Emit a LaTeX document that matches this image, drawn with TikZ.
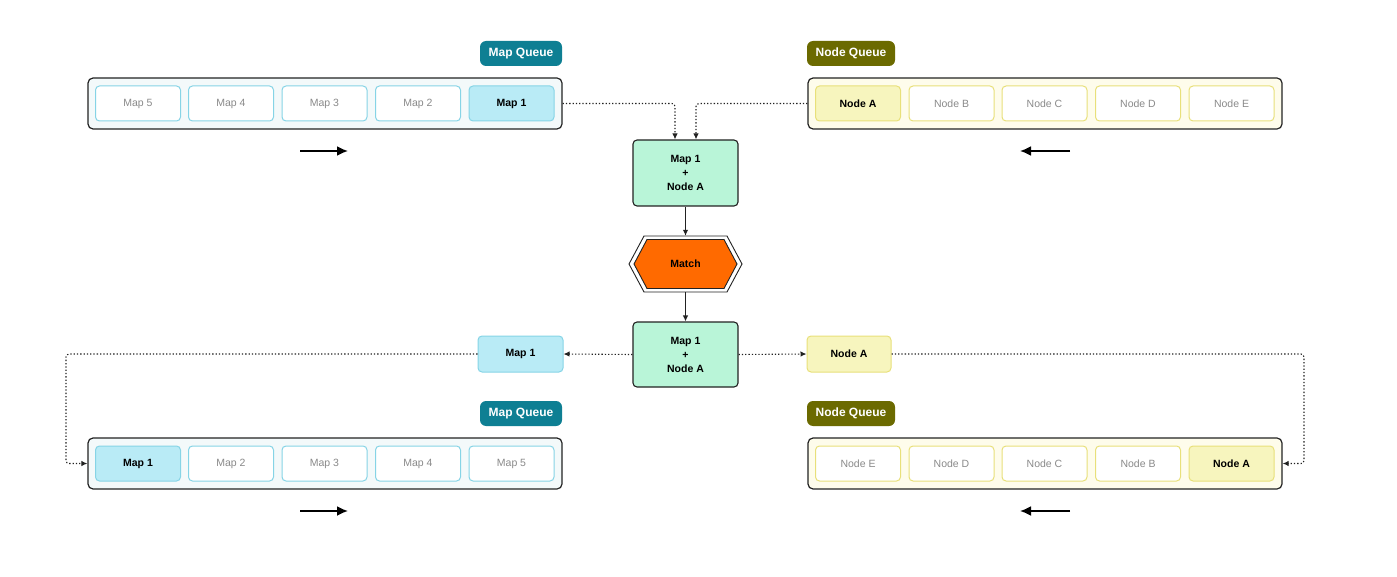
\documentclass[tikz,border=0pt]{standalone}
\usepackage{fontspec}
\setmainfont{Liberation Sans}
\usetikzlibrary{arrows.meta}
\definecolor{mqteal}{HTML}{0E7F93}
\definecolor{nqolive}{HTML}{6B6A00}
\definecolor{mapbd}{HTML}{86D4E6}
\definecolor{mapfill}{HTML}{B9EBF6}
\definecolor{mapbg}{HTML}{F3F9FA}
\definecolor{nodebd}{HTML}{E8E07A}
\definecolor{nodefill}{HTML}{F7F5BE}
\definecolor{nodebg}{HTML}{FEFCEB}
\definecolor{greenbox}{HTML}{B9F5D8}
\definecolor{matchor}{HTML}{FF6A00}
\definecolor{celltxt}{HTML}{8A8A8A}
\definecolor{lineblk}{HTML}{222222}
\tikzset{
  container/.style={draw=lineblk, line width=1.2pt, rounded corners=5pt, minimum width=474pt, minimum height=51pt, inner sep=0pt},
  cellbase/.style={rounded corners=4pt, minimum width=85pt, minimum height=35pt, inner sep=0pt, line width=1pt, font=\fontsize{10.5}{12}\selectfont},
  mapcell/.style={cellbase, draw=mapbd, fill=white, text=celltxt},
  mapon/.style={cellbase, draw=mapbd, fill=mapfill, text=black, font=\fontsize{10.5}{12}\selectfont\bfseries},
  nodecell/.style={cellbase, draw=nodebd, fill=white, text=celltxt},
  nodeon/.style={cellbase, draw=nodebd, fill=nodefill, text=black, font=\fontsize{10.5}{12}\selectfont\bfseries},
  qlabel/.style={rounded corners=6pt, minimum height=25pt, inner sep=0pt, text=white, font=\fontsize{12}{14}\selectfont\bfseries},
  greenbox/.style={draw=lineblk, line width=1.1pt, fill=greenbox, rounded corners=4pt, minimum width=105pt, minimum height=66pt, inner sep=0pt, align=center, font=\fontsize{10.5}{14}\selectfont\bfseries},
  dotarrow/.style={dash pattern=on 1.3pt off 2pt, line width=1.1pt, draw=lineblk, rounded corners=3pt, -{Latex[length=6pt,width=5.5pt]}},
  solidarrow/.style={line width=1.1pt, draw=lineblk, -{Latex[length=6pt,width=5.5pt]}},
  dirarrow/.style={line width=1.8pt, draw=black, -{Latex[length=11pt,width=10pt]}}
}
\begin{document}
\begin{tikzpicture}[x=1pt,y=-1pt]
\useasboundingbox (0,0) rectangle (1397,577);

% ---------- top map queue ----------
\node[qlabel, fill=mqteal, minimum width=82pt] (mqlabel) at (521,53.5) {Map Queue};
\node[container, fill=mapbg] (mq) at (325,103.5) {};
\node[mapcell] (m5) at (138,103.5) {Map 5};
\node[mapcell] (m4) at (231,103.5) {Map 4};
\node[mapcell] (m3) at (324.5,103.5) {Map 3};
\node[mapcell] (m2) at (418,103.5) {Map 2};
\node[mapon] (m1) at (511.5,103.5) {Map 1};
\coordinate (ta1) at (300,151);
\coordinate (ta2) at (348,151);
\draw[dirarrow] (ta1) -- (ta2);

% ---------- top node queue ----------
\node[qlabel, fill=nqolive, minimum width=88pt] (nqlabel) at (851,53.5) {Node Queue};
\node[container, fill=nodebg] (nq) at (1045,103.5) {};
\node[nodeon] (na) at (858,103.5) {Node A};
\node[nodecell] (nb) at (951.5,103.5) {Node B};
\node[nodecell] (nc) at (1044.5,103.5) {Node C};
\node[nodecell] (nd) at (1138,103.5) {Node D};
\node[nodecell] (ne) at (1231.5,103.5) {Node E};
\coordinate (tb1) at (1070,151);
\coordinate (tb2) at (1020,151);
\draw[dirarrow] (tb1) -- (tb2);

% ---------- centre ----------
\node[greenbox] (c1) at (685.5,173) {Map 1\\+\\Node A};
\node[minimum width=113pt, minimum height=56pt, inner sep=0pt] (match) at (685.5,264) {};
\draw[lineblk, line width=0.9pt, fill=white] (629,264) -- (644,236) -- (727,236) -- (742,264) -- (727,292) -- (644,292) -- cycle;
\draw[lineblk, line width=0.9pt, fill=matchor] (634,264) -- (647,239.5) -- (724,239.5) -- (737,264) -- (724,288.5) -- (647,288.5) -- cycle;
\node[font=\fontsize{10.5}{12}\selectfont\bfseries] at (match.center) {Match};
\node[greenbox, minimum height=65pt] (c2) at (685.5,354.5) {Map 1\\+\\Node A};

\node[mapon, minimum height=36pt] (sm) at (520.5,354) {Map 1};
\node[nodeon, minimum width=84pt, minimum height=36pt] (sn) at (849,354) {Node A};

% connectors top
\draw[dotarrow] (mq.east) -| ([xshift=-10.5pt]c1.north);
\draw[dotarrow] (nq.west) -| ([xshift=10.5pt]c1.north);
\draw[solidarrow] (c1.south) -- (match.north);
\draw[solidarrow] (match.south) -- (c2.north);
\draw[dotarrow] (c2.west) -- (sm.east);
\draw[dotarrow] (c2.east) -- (sn.west);

% ---------- bottom map queue ----------
\node[qlabel, fill=mqteal, minimum width=82pt] (mqlabel2) at (521,413.5) {Map Queue};
\node[container, fill=mapbg] (bmq) at (325,463.5) {};
\node[mapon] (bm1) at (138,463.5) {Map 1};
\node[mapcell] (bm2) at (231,463.5) {Map 2};
\node[mapcell] (bm3) at (324.5,463.5) {Map 3};
\node[mapcell] (bm4) at (418,463.5) {Map 4};
\node[mapcell] (bm5) at (511.5,463.5) {Map 5};
\coordinate (ba1) at (300,511);
\coordinate (ba2) at (348,511);
\draw[dirarrow] (ba1) -- (ba2);

% ---------- bottom node queue ----------
\node[qlabel, fill=nqolive, minimum width=88pt] (nqlabel2) at (851,413.5) {Node Queue};
\node[container, fill=nodebg] (bnq) at (1045,463.5) {};
\node[nodecell] (bne) at (858,463.5) {Node E};
\node[nodecell] (bnd) at (951.5,463.5) {Node D};
\node[nodecell] (bnc) at (1044.5,463.5) {Node C};
\node[nodecell] (bnb) at (1138,463.5) {Node B};
\node[nodeon] (bna) at (1231.5,463.5) {Node A};
\coordinate (bb1) at (1070,511);
\coordinate (bb2) at (1020,511);
\draw[dirarrow] (bb1) -- (bb2);

% loops back
\coordinate (lturn) at (66,354);
\coordinate (rturn) at (1304,354);
\draw[dotarrow] (sm.west) -- (lturn) |- (bmq.west);
\draw[dotarrow] (sn.east) -- (rturn) |- (bnq.east);
\end{tikzpicture}
\end{document}
